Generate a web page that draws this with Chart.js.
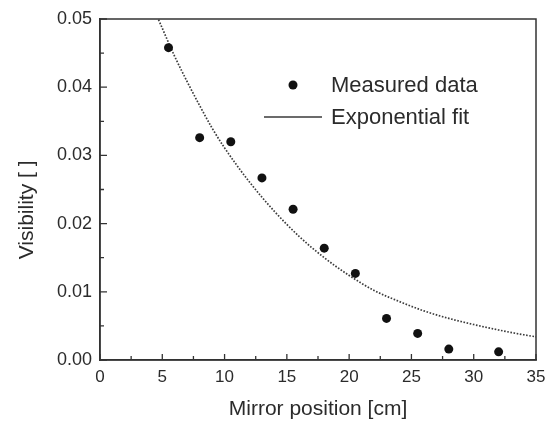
<!DOCTYPE html>
<html><head><meta charset="utf-8">
<script src="https://cdn.jsdelivr.net/npm/chart.js@4/dist/chart.umd.min.js"></script>
<style>html,body{margin:0;padding:0;background:#fff}#wrap{width:547px;height:422px}</style>
</head><body><div id="wrap"><canvas id="c" width="547" height="422"></canvas></div>
<script>
// Measured data points
const measuredX = [5.5, 8.0, 10.5, 13.0, 15.5, 18.0, 20.5, 23.0, 25.5, 28.0, 32.0];
const measuredY = [0.0458, 0.0326, 0.0320, 0.0267, 0.0221, 0.0164, 0.0127, 0.0061, 0.0039, 0.0016, 0.0012];
// Exponential fit curve
const fitX = [4.7, 6, 7, 8, 9, 10, 12, 14, 16, 18, 20, 22, 24, 26, 28, 30, 32, 34, 35];
const fitY = [0.0499, 0.0445, 0.0408, 0.0373, 0.0340, 0.0311, 0.0261, 0.0218, 0.0181, 0.0150, 0.0124, 0.0102, 0.0086, 0.0072, 0.0061, 0.0052, 0.0044, 0.0037, 0.0034];
// Axis ticks
const xTicks = [0, 5, 10, 15, 20, 25, 30, 35];
const yTicks = [0.00, 0.01, 0.02, 0.03, 0.04, 0.05];
const xMinorStep = 2.5;
const yMinorStep = 0.005;
const seriesLabels = ['Measured data', 'Exponential fit'];

const FONT = "'Liberation Sans', Arial, Helvetica, sans-serif";
const INK = '#2b2b2b';

const framePlugin = {
  id: 'frame',
  afterDatasetsDraw(chart) {
    const {ctx, chartArea: a, scales: {x, y}} = chart;
    ctx.save();
    ctx.strokeStyle = '#333';
    ctx.lineWidth = 1.5;
    ctx.strokeRect(a.left, a.top, a.right - a.left, a.bottom - a.top);
    ctx.lineWidth = 1.3;
    ctx.beginPath();
    for (let v = x.min; v <= x.max + 1e-9; v += xMinorStep) {
      const px = x.getPixelForValue(v);
      const major = xTicks.some(t => Math.abs(t - v) < 1e-9);
      const len = major ? 6 : 4;
      ctx.moveTo(px, a.bottom); ctx.lineTo(px, a.bottom - len);
    }
    for (let v = y.min; v <= y.max + 1e-9; v += yMinorStep) {
      const py = y.getPixelForValue(v);
      const major = yTicks.some(t => Math.abs(t - v) < 1e-9);
      const len = major ? 7 : 4;
      ctx.moveTo(a.left, py); ctx.lineTo(a.left + len, py);
    }
    ctx.stroke();
    // legend
    const ds = chart.data.datasets;
    ctx.fillStyle = ds[0].backgroundColor;
    ctx.beginPath();
    ctx.arc(293, 85, ds[0].pointRadius, 0, Math.PI * 2);
    ctx.fill();
    ctx.strokeStyle = '#3a3a3a';
    ctx.lineWidth = 1.6;
    ctx.beginPath();
    ctx.moveTo(264, 117); ctx.lineTo(322, 117);
    ctx.stroke();
    ctx.fillStyle = INK;
    ctx.font = '22px ' + FONT;
    ctx.textBaseline = 'middle';
    ctx.textAlign = 'left';
    ctx.fillText(ds[0].label, 331, 86);
    ctx.fillText(ds[1].label, 331, 118);
    ctx.restore();
  }
};

new Chart(document.getElementById('c'), {
  type: 'scatter',
  data: {
    datasets: [
      {
        label: seriesLabels[0],
        data: measuredX.map((v, i) => ({x: v, y: measuredY[i]})),
        backgroundColor: '#111',
        borderColor: '#111',
        pointRadius: 4.5,
        pointBorderWidth: 0,
        showLine: false
      },
      {
        label: seriesLabels[1],
        data: fitX.map((v, i) => ({x: v, y: fitY[i]})),
        borderColor: '#3c3c3c',
        backgroundColor: '#3c3c3c',
        borderWidth: 1.7,
        borderDash: [1.6, 1.6],
        pointRadius: 0,
        showLine: true,
        cubicInterpolationMode: 'monotone'
      }
    ]
  },
  options: {
    responsive: false,
    animation: false,
    devicePixelRatio: 1,
    layout: {padding: {top: 19, right: 11, left: 0, bottom: 0}},
    plugins: {legend: {display: false}, tooltip: {enabled: false}},
    scales: {
      x: {
        type: 'linear', min: 0, max: 35,
        afterBuildTicks: s => { s.ticks = xTicks.map(v => ({value: v})); },
        ticks: {color: INK, font: {family: FONT, size: 17}, padding: 7, callback: v => String(v), maxRotation: 0},
        grid: {display: false, drawTicks: false},
        border: {display: true, color: '#333', width: 1.5},
        title: {display: true, text: 'Mirror position [cm]', color: INK, font: {family: FONT, size: 21}, padding: {top: 0, bottom: 0}},
        afterFit: s => { s.height = 62; s.paddingLeft = 0; s.paddingRight = 0; }
      },
      y: {
        type: 'linear', min: 0, max: 0.05,
        afterBuildTicks: s => { s.ticks = yTicks.map(v => ({value: v})); },
        ticks: {color: INK, font: {family: FONT, size: 18}, padding: 8, callback: v => Number(v).toFixed(2)},
        grid: {display: false, drawTicks: false},
        border: {display: true, color: '#333', width: 1.5},
        title: {display: true, text: 'Visibility [ ]       ', color: INK, font: {family: FONT, size: 21}, padding: {top: 15, bottom: 0}},
        afterFit: s => { s.width = 100; s.paddingTop = 0; s.paddingBottom = 0; }
      }
    }
  },
  plugins: [framePlugin]
});
</script>
</body></html>
